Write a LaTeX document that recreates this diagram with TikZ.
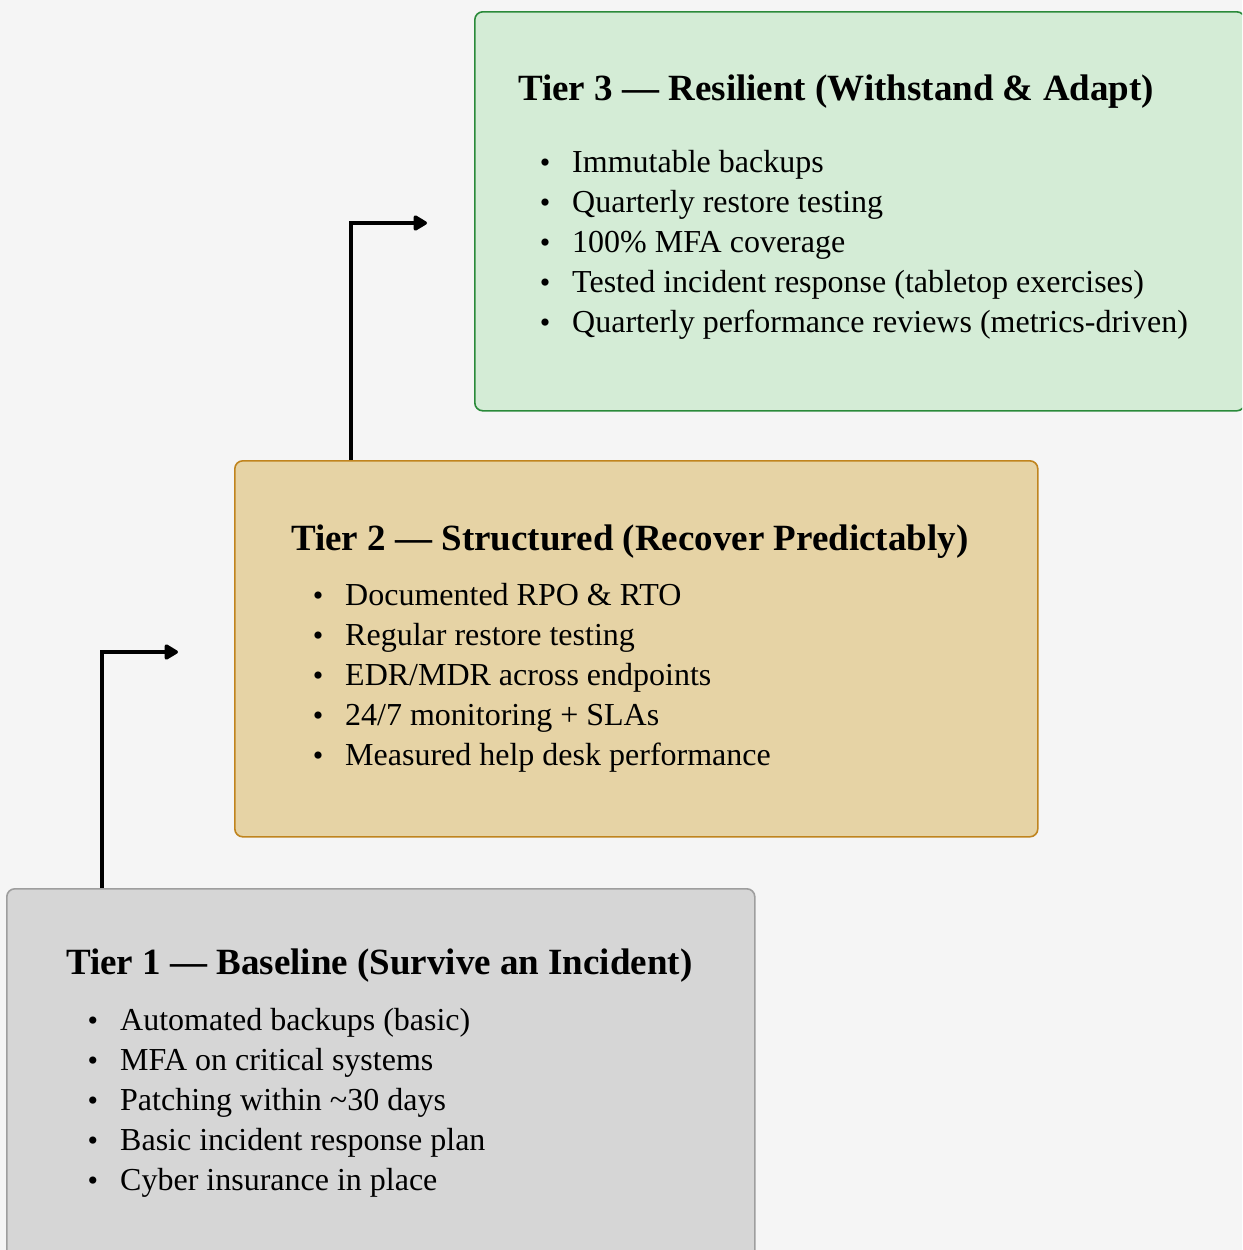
\documentclass[tikz,border=0pt]{standalone}
\usepackage{fontspec}
\setmainfont{Liberation Serif}
\usetikzlibrary{arrows.meta}
\definecolor{bgc}{HTML}{F5F5F5}
\definecolor{gfill}{HTML}{D4ECD6}
\definecolor{gdraw}{HTML}{2A8A3A}
\definecolor{yfill}{HTML}{E6D3A5}
\definecolor{ydraw}{HTML}{C0841E}
\definecolor{hfill}{HTML}{D6D6D6}
\definecolor{hdraw}{HTML}{9E9E9E}
\tikzset{
  tierbox/.style={rectangle, rounded corners=8pt, line width=1.6pt, anchor=north west, inner sep=0pt},
  titletext/.style={anchor=base west, inner sep=0pt, font=\fontsize{37}{44}\selectfont\bfseries},
  itemtext/.style={anchor=base west, inner sep=0pt, font=\fontsize{32}{40}\selectfont},
  bul/.style={anchor=base, inner sep=0pt, font=\fontsize{30}{40}\selectfont},
  flow/.style={line width=3.3pt, -{Triangle[length=15pt,width=17pt,round]}},
}
\begin{document}
\begin{tikzpicture}[x=1pt,y=-1pt]
\useasboundingbox (0,0) rectangle (1242,1250);
\fill[bgc] (0,0) rectangle (1242,1250);
\begin{scope}
\clip (0,0) rectangle (1242,1250);
% boxes
\node[tierbox, fill=gfill, draw=gdraw, minimum width=770pt, minimum height=399pt] (t3) at (474,11) {};
\node[tierbox, fill=yfill, draw=ydraw, minimum width=803pt, minimum height=376pt] (t2) at (234,460) {};
\node[tierbox, fill=hfill, draw=hdraw, minimum width=748pt, minimum height=400pt] (t1) at (6,888) {};
\end{scope}
% tier 3 text
\node[titletext] (h3) at (518,100) {Tier 3 — Resilient (Withstand \& Adapt)};
\foreach \i/\t in {0/{Immutable backups},1/{Quarterly restore testing},2/{100\% MFA coverage},3/{Tested incident response (tabletop exercises)},4/{Quarterly performance reviews (metrics-driven)}}{
  \node[bul] (b3\i) at (545,{172+40*\i}) {•};
  \node[itemtext] (i3\i) at (572,{172+40*\i}) {\t};
}
% tier 2 text
\node[titletext] (h2) at (291,550) {Tier 2 — Structured (Recover Predictably)};
\foreach \i/\t in {0/{Documented RPO \& RTO},1/{Regular restore testing},2/{EDR/MDR across endpoints},3/{24/7 monitoring + SLAs},4/{Measured help desk performance}}{
  \node[bul] (b2\i) at (318,{605+40*\i}) {•};
  \node[itemtext] (i2\i) at (345,{605+40*\i}) {\t};
}
% tier 1 text
\node[titletext] (h1) at (66,974) {Tier 1 — Baseline (Survive an Incident)};
\foreach \i/\t in {0/{Automated backups (basic)},1/{MFA on critical systems},2/{Patching within \textasciitilde30 days},3/{Basic incident response plan},4/{Cyber insurance in place}}{
  \node[bul] (b1\i) at (93,{1030+40*\i}) {•};
  \node[itemtext] (i1\i) at (120,{1030+40*\i}) {\t};
}
% connectors
\coordinate (s1) at (102,888);
\coordinate (k1) at (102,652);
\coordinate (e1) at (178,652);
\coordinate (s2) at (351,460);
\coordinate (k2) at (351,223);
\coordinate (e2) at (427,223);
\draw[flow] (s1) -- (k1) -- (e1);
\draw[flow] (s2) -- (k2) -- (e2);
\end{tikzpicture}
\end{document}
